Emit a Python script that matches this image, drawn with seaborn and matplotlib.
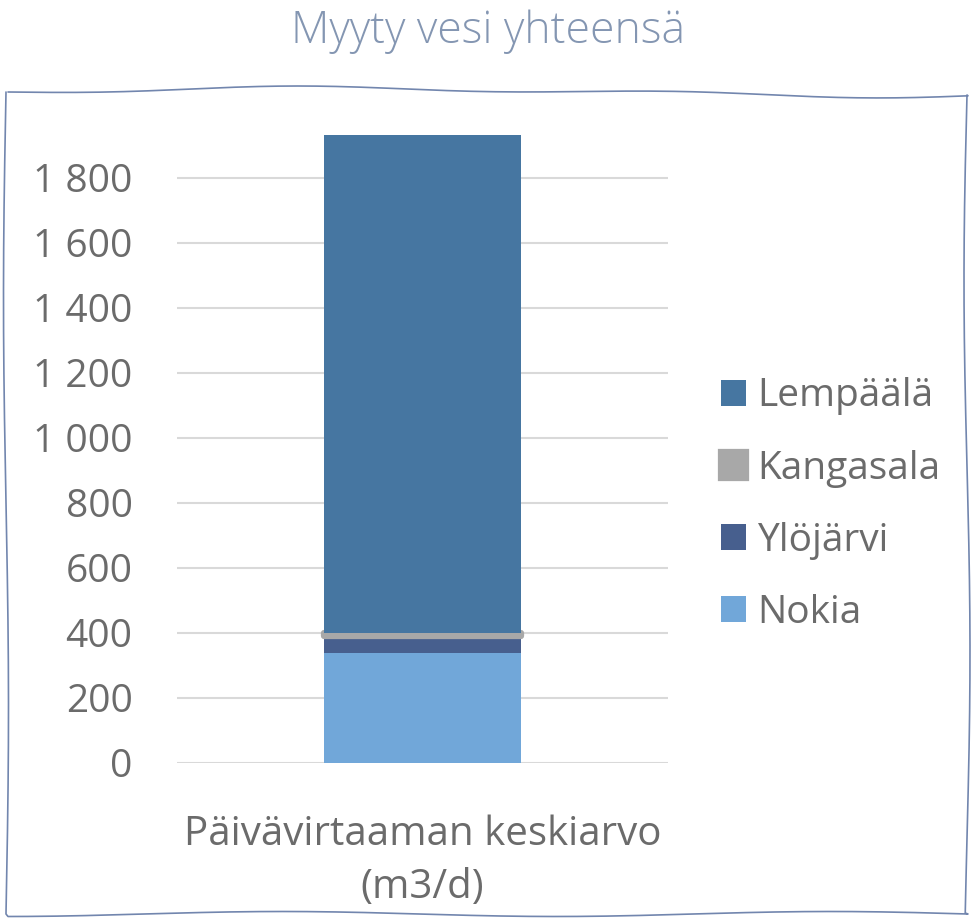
import numpy as np
import pandas as pd
import seaborn as sns
import matplotlib.pyplot as plt
from matplotlib.lines import Line2D

category = ["Päivävirtaaman keskiarvo\n(m3/d)"]
series = ["Nokia", "Ylöjärvi", "Kangasala", "Lempäälä"]
values = [338, 52, 8, 1535]
colors = ["#71A7D9", "#475F8E", "#A8A8A8", "#4676A1"]
yticks = [0, 200, 400, 600, 800, 1000, 1200, 1400, 1600, 1800]
ytick_labels = ["0", "200", "400", "600", "800", "1 000", "1 200", "1 400", "1 600", "1 800"]
title = "Myyty vesi yhteensä"

sns.set_theme(style="white")
plt.rcParams["font.family"] = ["Open Sans", "DejaVu Sans"]

text_color = "#6B6B6B"

fig = plt.figure(figsize=(9.74, 9.21), dpi=100)
ax = fig.add_axes([0.1817, 0.1719, 0.5041, 0.6862])

bottom = 0
for name, val, col in zip(series, values, colors):
    df = pd.DataFrame({"cat": category, "val": [val]})
    kw = dict(linewidth=0)
    if name == "Kangasala":
        kw = dict(linewidth=4.5, edgecolor=col, joinstyle="round")
    sns.barplot(data=df, x="cat", y="val", color=col, width=0.4,
                bottom=bottom, errorbar=None, saturation=1, label=name,
                ax=ax, zorder=3, **kw)
    bottom += val

ax.set_xlim(-0.5, 0.5)
ax.set_ylim(0, 1945)
ax.set_yticks(yticks)
ax.set_yticklabels(ytick_labels)
ax.yaxis.grid(True, color="#D9D9D9", linewidth=1.5, zorder=0)
ax.set_axisbelow(True)
for s in ax.spines.values():
    s.set_visible(False)
ax.tick_params(axis="both", length=0, labelsize=28, colors=text_color)
ax.tick_params(axis="x", labelsize=29)
ax.tick_params(axis="y", pad=32)
ax.tick_params(axis="x", pad=37)
for lab in ax.get_xticklabels():
    lab.set_linespacing(1.42)
ax.set_xlabel("")
ax.set_ylabel("")

handles, labels = ax.get_legend_handles_labels()
fig.legend(handles[::-1], labels[::-1], loc="center left",
           bbox_to_anchor=(0.704, 0.452), frameon=False, fontsize=28,
           handlelength=0.65, handleheight=0.65, handletextpad=0.28,
           labelspacing=0.88, labelcolor=text_color)
if ax.legend_:
    ax.legend_.remove()

fig.text(0.501, 0.966, title, ha="center", va="center", fontsize=32,
         color="#8496B2", fontweight="light")

# hand-drawn style frame
W, H = 974, 921
t = np.linspace(0, 1, 200)
top_x = 8 + t * 960
top_y = 92 - 4 * np.sin(t * np.pi * 1.6) + 2 * np.sin(t * np.pi * 5)
right_y = 95 + t * 818
right_x = 967 - 3 * np.sin(t * np.pi * 2.2)
bot_x = 968 - t * 960
bot_y = 914 - 2.5 * np.sin(t * np.pi * 3.5)
left_y = 914 - t * 822
left_x = 6 + 2.5 * np.sin(t * np.pi * 2.0)
xs = np.concatenate([top_x, right_x, bot_x, left_x])
ys = np.concatenate([top_y, right_y, bot_y, left_y])
fig.add_artist(Line2D(xs / W, 1 - ys / H, color="#7286AE", linewidth=1.2,
                      transform=fig.transFigure))

fig.savefig("out.png", dpi=100)
